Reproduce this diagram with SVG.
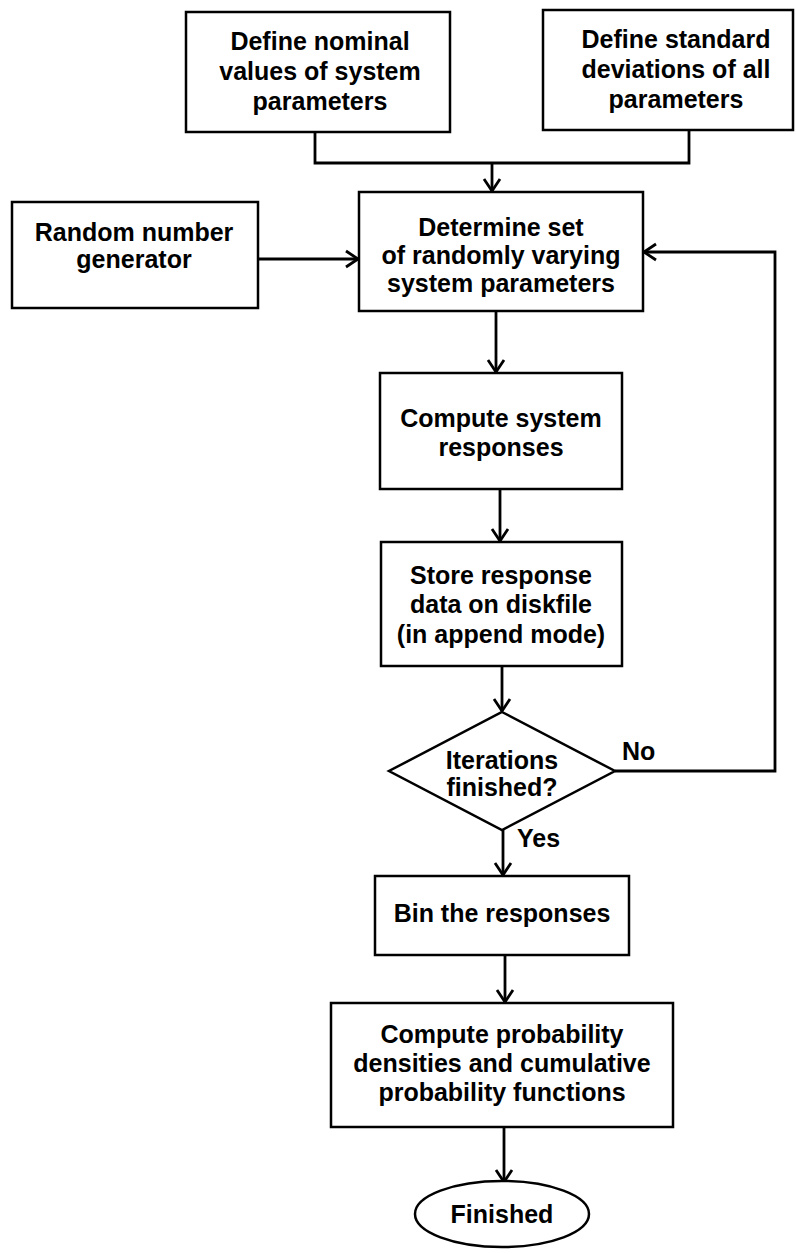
<svg xmlns="http://www.w3.org/2000/svg" width="796" height="1254" viewBox="0 0 796 1254">
<defs>
<style>
.box{fill:#fff;stroke:#000;stroke-width:2.5}
.ln{fill:none;stroke:#000;stroke-width:2.8}
.t{font-family:"Liberation Sans",Arial,sans-serif;font-size:25px;font-weight:bold;fill:#000;text-anchor:middle}
.lab{font-family:"Liberation Sans",Arial,sans-serif;font-size:25px;font-weight:bold;fill:#000}
</style>
<marker id="arr" markerUnits="userSpaceOnUse" markerWidth="24" markerHeight="24" refX="13" refY="9" orient="auto" viewBox="0 0 24 18">
<path d="M1,1 L13,9 L1,17" fill="none" stroke="#000" stroke-width="2.8"/>
</marker>
</defs>
<rect width="796" height="1254" fill="#fff"/>
<g id="connectors">
<path class="ln" d="M315,132 V163 H689 V130"/>
<path class="ln" d="M492,163 V191" marker-end="url(#arr)"/>
<path class="ln" d="M258,259 H358" marker-end="url(#arr)"/>
<path class="ln" d="M615,771 H775 V252 H644" marker-end="url(#arr)"/>
<path class="ln" d="M496,311 V372" marker-end="url(#arr)"/>
<path class="ln" d="M500,489 V541" marker-end="url(#arr)"/>
<path class="ln" d="M502,666 V711" marker-end="url(#arr)"/>
<path class="ln" d="M503,830 V875" marker-end="url(#arr)"/>
<path class="ln" d="M505,955 V1002" marker-end="url(#arr)"/>
<path class="ln" d="M504,1127 V1182" marker-end="url(#arr)"/>
</g>
<g id="nominal">
<rect class="box" x="186" y="12" width="264" height="120"/>
<text class="t" x="320" y="50">Define nominal</text>
<text class="t" x="320" y="80">values of system</text>
<text class="t" x="320" y="110">parameters</text>
</g>
<g id="stddev">
<rect class="box" x="543" y="10" width="250" height="120"/>
<text class="t" x="676" y="48">Define standard</text>
<text class="t" x="676" y="78">deviations of all</text>
<text class="t" x="676" y="108">parameters</text>
</g>
<g id="random">
<rect class="box" x="12" y="202" width="246" height="106"/>
<text class="t" x="134" y="241">Random number</text>
<text class="t" x="134" y="268">generator</text>
</g>
<g id="determine">
<rect class="box" x="359" y="192" width="284" height="119"/>
<text class="t" x="501" y="236">Determine set</text>
<text class="t" x="501" y="264">of randomly varying</text>
<text class="t" x="501" y="292">system parameters</text>
</g>
<g id="compute">
<rect class="box" x="380" y="373" width="242" height="116"/>
<text class="t" x="501" y="427">Compute system</text>
<text class="t" x="501" y="456">responses</text>
</g>
<g id="store">
<rect class="box" x="381" y="542" width="241" height="124"/>
<text class="t" x="501" y="584">Store response</text>
<text class="t" x="501" y="613">data on diskfile</text>
<text class="t" x="501" y="643">(in append mode)</text>
</g>
<g id="decision">
<polygon class="box" points="502,712 615,771 502,830 389,771"/>
<text class="t" x="502" y="769">Iterations</text>
<text class="t" x="502" y="796">finished?</text>
<text class="lab" x="622" y="760">No</text>
<text class="lab" x="517" y="847">Yes</text>
</g>
<g id="bin">
<rect class="box" x="375" y="876" width="254" height="79"/>
<text class="t" x="502" y="922">Bin the responses</text>
</g>
<g id="probability">
<rect class="box" x="331" y="1003" width="342" height="124"/>
<text class="t" x="502" y="1043">Compute probability</text>
<text class="t" x="502" y="1072">densities and cumulative</text>
<text class="t" x="502" y="1101">probability functions</text>
</g>
<g id="finished">
<ellipse class="box" cx="502" cy="1214" rx="87" ry="33"/>
<text class="t" x="502" y="1223">Finished</text>
</g>
</svg>
